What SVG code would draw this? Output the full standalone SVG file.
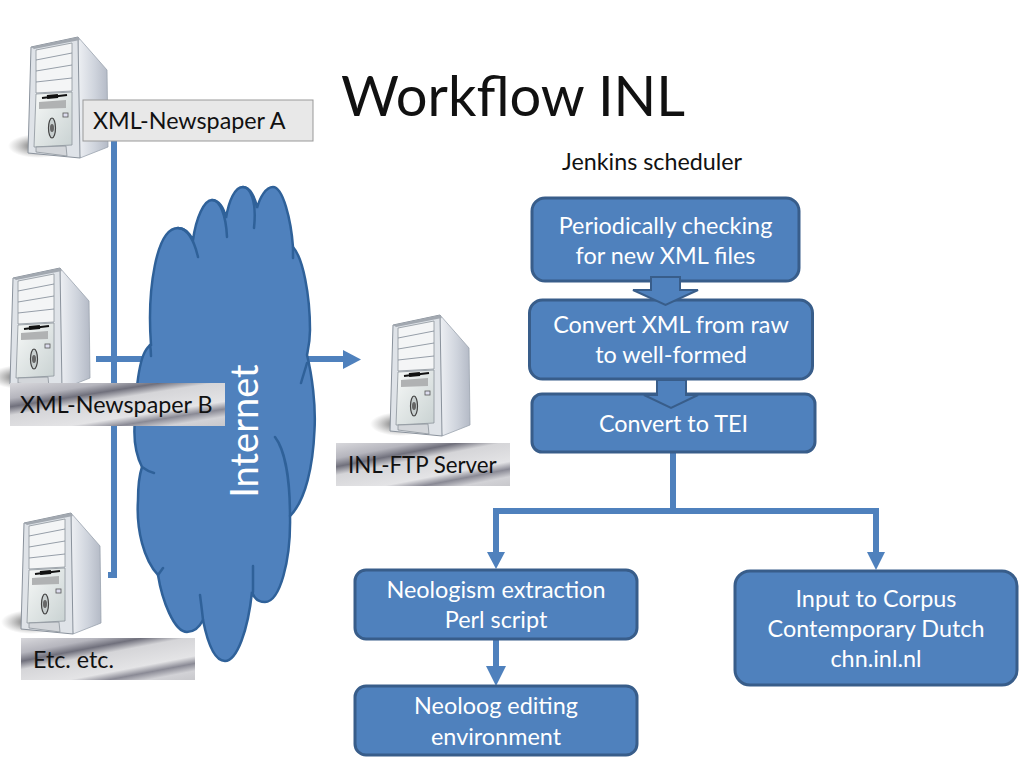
<svg xmlns="http://www.w3.org/2000/svg" width="1024" height="768" viewBox="0 0 1024 768">
<style>
text{font-family:"Lato","Open Sans","Liberation Sans",sans-serif}
.box{fill:#4f81bd;stroke:#385d8a;stroke-width:3}
.t{fill:#fff;font-size:23.400px;text-anchor:middle}
.lab{fill:#111;font-size:23.300px}
.con{fill:none;stroke:#4f81bd;stroke-width:6}
.conh{fill:#4f81bd}
.blk{fill:#4f81bd;stroke:#385d8a;stroke-width:2}
.ln{fill:none;stroke:#7d8894;stroke-width:.8}
.edge{fill:none;stroke:#2f6199;stroke-width:2.500;stroke-linecap:round}
</style>
<defs>
<linearGradient id="side" x1="0" y1="0" x2="1" y2="0"><stop offset="0" stop-color="#f1f3f6"/><stop offset=".6" stop-color="#ced3dc"/><stop offset="1" stop-color="#b4bac6"/></linearGradient>
<linearGradient id="front" x1="0" y1="0" x2="1" y2="1"><stop offset="0" stop-color="#f7f9f8"/><stop offset="1" stop-color="#c9d2d2"/></linearGradient>
<radialGradient id="shadow"><stop offset="0" stop-color="#333" stop-opacity=".85"/><stop offset="1" stop-color="#777" stop-opacity="0"/></radialGradient>
<linearGradient id="silver" x1="0" y1="0" x2=".87" y2="1.100">
<stop offset="0" stop-color="#d8d8dc"/><stop offset=".2" stop-color="#b5b5bd"/><stop offset=".31" stop-color="#70707c"/><stop offset=".42" stop-color="#d5d5d8"/><stop offset=".68" stop-color="#e4e4e6"/><stop offset=".78" stop-color="#8a8a95"/><stop offset=".88" stop-color="#d2d2d6"/><stop offset="1" stop-color="#c8c8cc"/>
</linearGradient>
<g id="server">
<ellipse cx="38" cy="146" rx="30" ry="12" fill="url(#shadow)"/>
<path d="M78 37L107 70L108 147L80 158L76 130Z" fill="url(#side)" stroke="#9ba3ae" stroke-width=".8"/>
<path d="M31 47L78 37L80 158L28 153Z" fill="#dfe3e8" stroke="#8a929c" stroke-width="1"/>
<path d="M31 47L78 37L80 40L34 49Z" fill="#a2a8b0"/>
<path d="M36 50L72 43L72 91L36 93Z" fill="#f4f5f6" stroke="#8d949c" stroke-width=".8"/>
<path class="ln" d="M36 60L72 53M36 71L72 65M36 82L72 78"/>
<path d="M36 94L72 92L72 145L34 147Z" fill="url(#front)" stroke="#8d949c" stroke-width=".8"/>
<path d="M42 98L67 95" stroke="#111" stroke-width="2" fill="none"/>
<path d="M47 97L58 96" stroke="#111" stroke-width="4" fill="none"/>
<path d="M39 102L66 100L66 108L39 109Z" fill="#b0b2b3"/>
<rect x="63" y="113" width="5" height="4" fill="#dde" stroke="#555" stroke-width=".8"/>
<ellipse cx="52" cy="128" rx="3.500" ry="10" fill="#c8cfcf" stroke="#444" stroke-width="1.200"/>
<ellipse cx="52" cy="128" rx="2" ry="4" fill="#666"/>
<path d="M36 147L66 146L67 156L36 152Z" fill="#d3d6da" stroke="#8d949c" stroke-width=".8"/>
</g>
</defs>
<rect width="1024" height="768" fill="#fff"/>

<g id="connectors">
<path class="con" d="M114 140V575H108"/>
<path class="con" d="M96 359H150"/>
<path class="con" d="M305 359H345"/>
<path class="conh" d="M343 350L361 359.500L343 369Z"/>
<path class="con" d="M673 452V511M496 553V511H876V553"/>
<path class="conh" d="M487 552H505L496 569ZM867 552H885L876 570Z"/>
<path class="con" d="M496 639V668"/>
<path class="conh" d="M486 666H506L496 686Z"/>
</g>

<g id="cloud">
<path d="M151 345C147 290 156 228 178 228C186 228 190 234 193 240C196 218 204 200 212 200C219 200 224 208 226 218C229 200 235 187 243 187C250 187 255 197 257 208C260 197 266 187 273 187C283 187 291 220 293 247C303 258 310 295 310 330C310 342 308 350 307 355C312 375 316 405 314.500 430C313 465 306 500 290 516C291 560 280 602 265 602C258 602 254 598 252 592C248 630 237 661 225 661C214 661 207 640 203 620C199 628 194 632 187 632C174 632 162 600 158 575C144 560 136 530 138 500C138 485 140 473 142 467C136 455 133 440 135 420C136 385 140 350 151 345Z" fill="#4f81bd" stroke="#2f6199" stroke-width="2.500"/>
<path class="edge" d="M178 228C187 228 194 240 198 257M212 200C220 200 226 215 227 237M243 187C250 187 257 200 254 228M293 247L293 258M150 345C151 350 151 352 151 356M307 363C305 370 303 376 301 383M142 467C146 470 150 472 154 473M275 437C285 450 290 480 290 516M158 575L163 568M253 592V566M203 620C202 610 201 603 200 595" />
<text transform="translate(258,431) rotate(-90)" font-size="38" fill="#fff" text-anchor="middle">Internet</text>
</g>

<g id="title"><text x="341" y="116" font-size="56" fill="#111">Workflow INL</text></g>
<g id="scheduler"><text x="562" y="170" class="lab">Jenkins scheduler</text></g>

<g id="server-a"><use href="#server"/>
<rect x="83" y="100" width="230" height="41" fill="#e8e8e8" stroke="#999" stroke-width="1"/>
<text x="93" y="129" class="lab">XML-Newspaper A</text></g>
<g id="server-b"><use href="#server" transform="translate(-18,231)"/>
<rect x="10" y="383" width="215" height="43" fill="url(#silver)"/>
<text x="20" y="413" class="lab">XML-Newspaper B</text></g>
<g id="server-ftp"><use href="#server" transform="translate(362,278)"/>
<rect x="336" y="443" width="174" height="43" fill="url(#silver)"/>
<text x="348" y="473" class="lab" style="font-size:22.300px">INL-FTP Server</text></g>
<g id="server-etc"><use href="#server" transform="translate(-7,476)"/>
<rect x="21" y="638" width="174" height="42" fill="url(#silver)"/>
<text x="33" y="668" class="lab">Etc. etc.</text></g>

<g id="n1"><rect class="box" x="532" y="198" width="267" height="83" rx="13"/>
<text class="t" x="665.500" y="234">Periodically checking</text><text class="t" x="665.500" y="264">for new XML files</text></g>
<g id="n2"><rect class="box" x="529.500" y="300" width="283" height="79" rx="13"/>
<text class="t" x="671" y="333">Convert XML from raw</text><text class="t" x="671" y="363">to well-formed</text></g>
<g id="n3"><rect class="box" x="532" y="394" width="283" height="58" rx="10"/>
<text class="t" x="673.500" y="432">Convert to TEI</text></g>
<g id="n4"><rect class="box" x="355" y="570" width="282" height="69" rx="11"/>
<text class="t" x="496" y="598">Neologism extraction</text><text class="t" x="496" y="628">Perl script</text></g>
<g id="n5"><rect class="box" x="355" y="686" width="282" height="69" rx="11"/>
<text class="t" x="496" y="714">Neoloog editing</text><text class="t" x="496" y="745">environment</text></g>
<g id="n6"><rect class="box" x="735" y="571" width="282" height="114" rx="15"/>
<text class="t" x="876" y="607">Input to Corpus</text><text class="t" x="876" y="637">Contemporary Dutch</text><text class="t" x="876" y="667">chn.inl.nl</text></g>

<g id="flow-arrows">
<path class="blk" d="M651 277H680V290H698L665.500 305L633 290H651Z"/>
<path class="blk" d="M657 380H686V395H698L671 408L644 395H657Z"/>
</g>
</svg>
